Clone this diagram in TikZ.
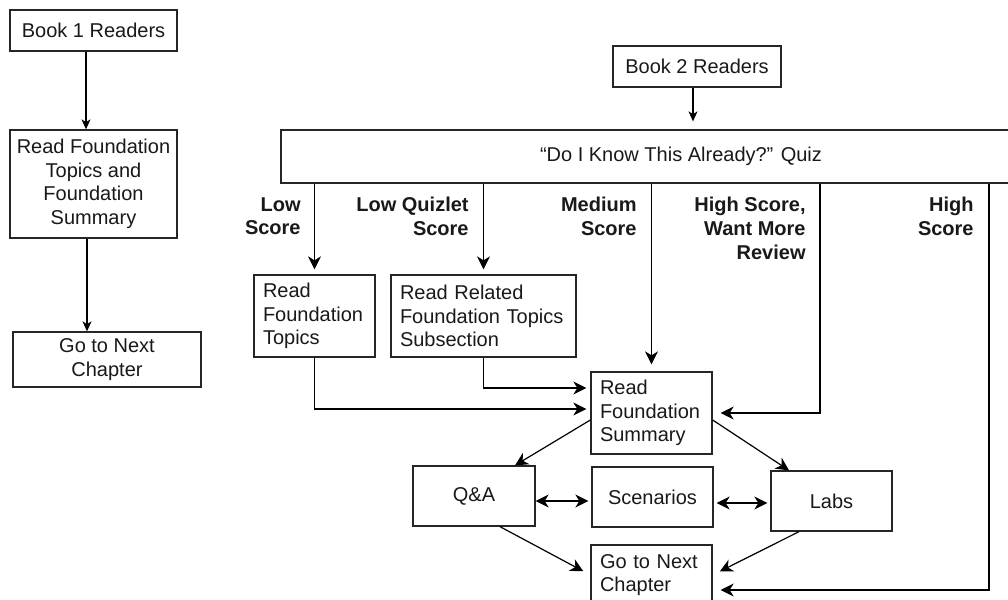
\documentclass[tikz,border=0pt]{standalone}
\usepackage{fontspec}
\setmainfont{Liberation Sans}
\usetikzlibrary{arrows.meta}
\begin{document}
\begin{tikzpicture}[x=0.5pt,y=-0.5pt,
  every node/.style={font=\fontsize{10}{11.8}\selectfont, text=black!90},
  box/.style={draw=black!85, line width=0.65pt, rectangle, inner sep=0pt, align=center},
  lbox/.style={box, align=left, inner xsep=4.5pt, inner ysep=0pt},
  tag/.style={font=\fontsize{10}{11.8}\selectfont\bfseries, align=right, inner sep=0pt, anchor=north east},
  small/.style={line width=0.6pt, -{Stealth[length=5pt,width=4.5pt,inset=1.4pt]}},
  flow/.style={line width=0.6pt, -{Stealth[length=6.5pt,width=6.5pt,inset=2pt]}},
  dflow/.style={line width=0.6pt, {Stealth[length=6.5pt,width=6.5pt,inset=2pt]}-{Stealth[length=6.5pt,width=6.5pt,inset=2pt]}}]

\clip (0,0) rectangle (1008,600);
\fill[white] (0,0) rectangle (1008,600);

% left column: Book 1 path
\node[box, minimum width=83.5pt, minimum height=20.5pt] (b1) at (93.5,30.5) {Book 1 Readers};
\node[box, minimum width=83.5pt, minimum height=54pt] (rf1) at (93.5,184) {Read Foundation\\Topics and\\Foundation\\Summary};
\node[box, minimum width=94pt, minimum height=27.5pt] (nc1) at (107,359.5) {Go to Next\\Chapter};

% Book 2 path
\node[box, minimum width=84pt, minimum height=20.5pt] (b2) at (697,66.5) {Book 2 Readers};
\node[box, minimum width=400pt, minimum height=26.5pt] (quiz) at (681,156.5) {“Do I Know This Already?” Quiz};

\node[lbox, text width=51.5pt, minimum height=41pt] (rft) at (314.5,316) {Read\\Foundation\\Topics};
\node[lbox, text width=83.5pt, minimum height=41pt] (rrf) at (483.5,316) {Read Related\\Foundation Topics\\Subsection};
\node[lbox, text width=51.5pt, minimum height=41pt] (sum) at (651.5,413) {Read\\Foundation\\Summary};

\node[box, minimum width=61pt, minimum height=30pt] (qa) at (474,496) {Q\&A};
\node[box, minimum width=60.5pt, minimum height=30pt] (scen) at (652.5,497) {Scenarios};
\node[box, minimum width=60.5pt, minimum height=30pt] (labs) at (831.5,501) {Labs};
\node[lbox, text width=51.5pt, minimum height=30pt] (nc2) at (651.5,575) {Go to Next\\Chapter};

% branch labels
\node[tag] (tlow) at (301,197) {Low\\Score};
\node[tag] (tquiz) at (469,197) {Low Quizlet\\Score};
\node[tag] (tmed) at (637,197) {Medium\\Score};
\node[tag] (thw) at (806,197) {High Score,\\Want More\\Review};
\node[tag] (thigh) at (974,197) {High\\Score};

\coordinate (cHW) at (820,0);
\coordinate (cH) at (989,0);

% connectors
\draw[small] ([xshift=-3.75pt]b1.south) -- ([xshift=-3.75pt]b1.south |- rf1.north);
\draw[small] ([xshift=-3.25pt]rf1.south) -- ([xshift=-3.25pt]rf1.south |- nc1.north);
\draw[small, shorten >=4pt] ([xshift=-2pt]b2.south) -- ([xshift=-2pt]b2.south |- quiz.north);

\draw[flow, shorten >=2.5pt] (quiz.south -| rft.north) -- (rft.north);
\draw[flow, shorten >=2.5pt] (quiz.south -| rrf.north) -- (rrf.north);
\draw[flow, shorten >=3.5pt] (quiz.south -| sum.north) -- (sum.north);
\draw[flow, shorten >=4pt] (quiz.south -| cHW) |- (sum.east);
\draw[flow, shorten >=4pt] (quiz.south -| cH) |- ([yshift=-7.5pt]nc2.east);

\draw[flow, shorten >=2pt] (rft.south) |- ([yshift=2pt]sum.west);
\draw[flow, shorten >=2pt] (rrf.south) |- ([yshift=12.5pt]sum.west);

\draw[flow] ([yshift=-3.5pt]sum.west) -- ([xshift=20.5pt]qa.north);
\draw[flow] ([yshift=-3.5pt]sum.east) -- ([xshift=-21.25pt]labs.north);

\draw[dflow, shorten >=1.5pt] ([yshift=-2.5pt]qa.east) -- ([yshift=-2.5pt]qa.east -| scen.west);
\draw[dflow, shorten >=1.5pt, shorten <=1.5pt] ([yshift=-3pt]scen.east) -- ([yshift=-3pt]scen.east -| labs.west);

\draw[flow, shorten >=4pt] ([xshift=13pt]qa.south) -- (nc2.west);
\draw[flow, shorten >=4pt] ([xshift=-16.25pt]labs.south) -- (nc2.east);
\end{tikzpicture}
\end{document}
